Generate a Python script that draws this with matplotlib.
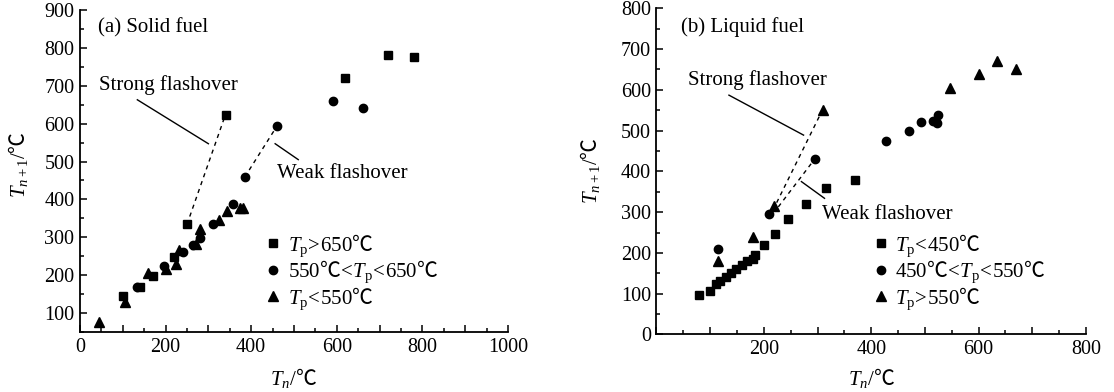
import matplotlib
matplotlib.use("Agg")
import matplotlib.pyplot as plt
import numpy as np

plt.rcParams['font.family'] = ['Liberation Serif', 'DejaVu Serif', 'DejaVu Sans', 'Noto Sans CJK SC']
plt.rcParams['mathtext.fontset'] = 'custom'
plt.rcParams['mathtext.rm'] = 'Liberation Serif'
plt.rcParams['mathtext.it'] = 'Liberation Serif:italic'
plt.rcParams['mathtext.sf'] = 'Noto Sans CJK SC'
plt.rcParams['mathtext.fallback'] = 'stix'

C = r'\mathsf{℃}'

# ---------------- data: (a) solid fuel ----------------
a_sq_x = [100, 140, 170, 220, 250, 340, 620, 720, 780]
a_sq_y = [145, 170, 199, 249, 334, 624, 720, 780, 776]
a_ci_x = [133, 197, 240, 265, 280, 310, 358, 385, 461, 590, 662]
a_ci_y = [170, 223, 260, 280, 299, 336, 387, 459, 595, 661, 640]
a_tr_x = [45, 105, 160, 201, 224, 232, 271, 280, 325, 343, 374, 380]
a_tr_y = [76, 128, 206, 216, 229, 266, 281, 321, 345, 369, 378, 378]
a_strong = ([250, 340], [334, 624])
a_weak = ([385, 461], [459, 595])
a_labels = [r'$T_\mathrm{p}\!>\!\mathrm{650}' + C + '$',
            r'$\mathrm{550}' + C + r'\!<\!T_\mathrm{p}\!<\!\mathrm{650}' + C + '$',
            r'$T_\mathrm{p}\!<\!\mathrm{550}' + C + '$']

# ---------------- data: (b) liquid fuel ----------------
b_sq_x = [79, 99, 110, 119, 129, 139, 149, 159, 169, 179, 184, 200, 220, 245, 279, 315, 369]
b_sq_y = [96, 107, 124, 131, 142, 150, 160, 170, 180, 185, 195, 220, 246, 284, 320, 359, 378]
b_ci_x = [114, 209, 295, 428, 470, 493, 516, 522, 524]
b_ci_y = [210, 295, 430, 474, 500, 522, 524, 519, 539]
b_tr_x = [114, 179, 218, 310, 546, 600, 634, 669]
b_tr_y = [180, 240, 314, 550, 605, 640, 671, 651]
b_strong = ([217, 309], [305, 550])
b_weak = ([227, 294], [313, 429])
b_labels = [r'$T_\mathrm{p}\!<\!\mathrm{450}' + C + '$',
            r'$\mathrm{450}' + C + r'\!<\!T_\mathrm{p}\!<\!\mathrm{550}' + C + '$',
            r'$T_\mathrm{p}\!>\!\mathrm{550}' + C + '$']

XLABEL = r'$T_n\mathrm{/}' + C + '$'
YLABEL = r'$T_{n+1}\mathrm{/}' + C + '$'

FS_TICK = 14.5
FS_TXT = 15

fig = plt.figure(figsize=(11.14, 3.92), dpi=100)
axA = fig.add_axes([0.0718, 0.1531, 0.3842, 0.8214])
axB = fig.add_axes([0.5893, 0.1467, 0.3855, 0.8321])


def style(ax):
    for s in ['top', 'right']:
        ax.spines[s].set_visible(False)
    for s in ['left', 'bottom']:
        ax.spines[s].set_linewidth(1.3)
    ax.tick_params(which='both', direction='in', width=1.1, labelsize=FS_TICK, pad=4)
    ax.tick_params(which='major', length=5)
    ax.tick_params(which='minor', length=3)


def markers(ax, sx, sy, cx, cy, tx, ty, labels):
    h1, = ax.plot(sx, sy, 's', color='black', ms=5.5, ls='none', label=labels[0])
    h2, = ax.plot(cx, cy, 'o', color='black', ms=6, ls='none', label=labels[1])
    h3, = ax.plot(tx, ty, '^', color='black', ms=7, ls='none', label=labels[2])
    return [h1, h2, h3]


# ---------- panel (a) ----------
ax = axA
style(ax)
hs = markers(ax, a_sq_x, a_sq_y, a_ci_x, a_ci_y, a_tr_x, a_tr_y, a_labels)
ax.plot(*a_strong, color='black', lw=1, ls=(0, (3, 3)))
ax.plot(*a_weak, color='black', lw=1, ls=(0, (3, 3)))
ax.plot([134, 300], [663, 547], color='black', lw=1)
ax.plot([456, 510], [547, 505], color='black', lw=1)
ax.text(45, 690, 'Strong flashover', fontsize=FS_TXT, va='baseline', ha='left')
ax.text(461, 457, 'Weak flashover', fontsize=FS_TXT, va='baseline', ha='left')
ax.text(43, 841, '(a) Solid fuel', fontsize=FS_TXT, va='baseline', ha='left')
ax.set_xlim(0, 1000)
ax.set_ylim(50, 900)
ax.set_xticks(np.arange(0, 1001, 100))
ax.set_xticklabels([str(v) if v % 200 == 0 else '' for v in range(0, 1001, 100)])
ax.set_xticks(np.arange(50, 1000, 100), minor=True)
ax.set_yticks(np.arange(100, 901, 100))
ax.set_yticks(np.arange(50, 900, 100), minor=True)
ax.set_xlabel(XLABEL, fontsize=FS_TXT)
ax.set_ylabel(YLABEL, fontsize=FS_TXT)
ax.xaxis.set_label_coords(0.5, -0.143)
ax.xaxis.label.set_va('center')
ax.yaxis.set_label_coords(-0.145, 0.519)
ax.yaxis.label.set_va('center')
ax.legend(handles=hs, loc='upper left', bbox_to_anchor=(0.432, 0.310), frameon=False,
          fontsize=FS_TXT, borderpad=0, borderaxespad=0, handlelength=0.8,
          handletextpad=0.3, labelspacing=0.0, numpoints=1)

# ---------- panel (b) ----------
ax = axB
style(ax)
hs = markers(ax, b_sq_x, b_sq_y, b_ci_x, b_ci_y, b_tr_x, b_tr_y, b_labels)
ax.plot(*b_strong, color='black', lw=1, ls=(0, (3, 3)))
ax.plot(*b_weak, color='black', lw=1, ls=(0, (3, 3)))
ax.plot([135, 274], [587, 489], color='black', lw=1)
ax.plot([270, 313], [375, 334], color='black', lw=1)
ax.text(59, 611, 'Strong flashover', fontsize=FS_TXT, va='baseline', ha='left')
ax.text(309, 284, 'Weak flashover', fontsize=FS_TXT, va='baseline', ha='left')
ax.text(45, 741, '(b) Liquid fuel', fontsize=FS_TXT, va='baseline', ha='left')
ax.set_xlim(0, 800)
ax.set_ylim(0, 800)
ax.set_xticks(np.arange(0, 801, 100))
ax.set_xticklabels([str(v) if (v % 200 == 0 and v > 0) else '' for v in range(0, 801, 100)])
ax.set_xticks(np.arange(50, 800, 100), minor=True)
ax.set_yticks(np.arange(0, 801, 100))
ax.set_yticks(np.arange(50, 800, 100), minor=True)
ax.set_xlabel(XLABEL, fontsize=FS_TXT)
ax.set_ylabel(YLABEL, fontsize=FS_TXT)
ax.xaxis.set_label_coords(0.5, -0.133)
ax.xaxis.label.set_va('center')
ax.yaxis.set_label_coords(-0.155, 0.504)
ax.yaxis.label.set_va('center')
ax.legend(handles=hs, loc='upper left', bbox_to_anchor=(0.503, 0.314), frameon=False,
          fontsize=FS_TXT, borderpad=0, borderaxespad=0, handlelength=0.8,
          handletextpad=0.3, labelspacing=0.0, numpoints=1)

fig.savefig('out.png', dpi=100)
